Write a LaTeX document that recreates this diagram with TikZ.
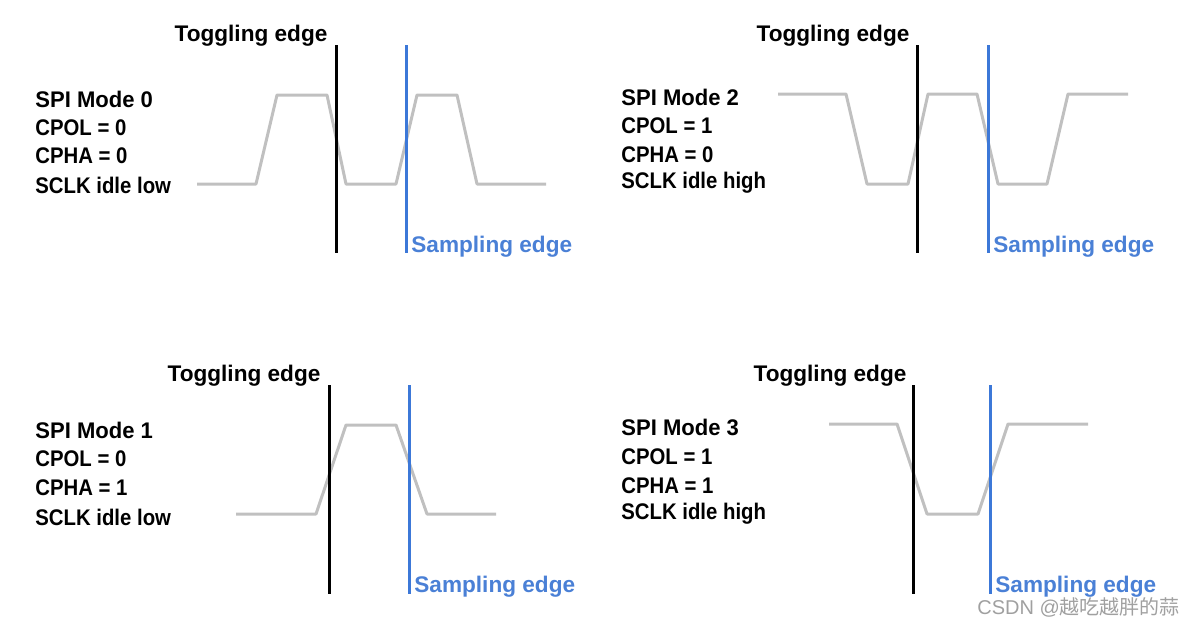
\documentclass[tikz,border=0pt]{standalone}
\usepackage{fontspec}
\setmainfont{Liberation Sans}
\newfontfamily\cjk{Noto Sans CJK SC}
\definecolor{wave}{RGB}{192,192,192}
\definecolor{samp}{RGB}{60,120,216}
\definecolor{stxt}{RGB}{74,128,214}
\definecolor{wm}{RGB}{160,160,160}
\newcommand{\nrw}[1]{\scalebox{0.9}[1]{#1}}
\newcommand{\nrwa}[1]{\scalebox{0.975}[1]{#1}}
\tikzset{
  lbl/.style={anchor=west,inner sep=0pt,font=\fontsize{11.3}{13}\selectfont\bfseries},
  toglbl/.style={lbl,anchor=center},
  samplbl/.style={lbl,text=stxt},
  wavepath/.style={draw=wave,line width=1.5pt,line join=round},
  togline/.style={draw=black,line width=1.5pt},
  sampline/.style={draw=samp,line width=1.5pt},
}
\begin{document}
\begin{tikzpicture}[x=0.5pt,y=-0.5pt]
\useasboundingbox (0,0) rectangle (1198,627);
% ---------- Mode 0 ----------
\node[lbl] (m0a) at (35,99) {\nrwa{SPI Mode 0}};
\node[lbl] (m0b) at (35,128) {\nrw{CPOL = 0}};
\node[lbl] (m0c) at (35,156) {\nrw{CPHA = 0}};
\node[lbl] (m0d) at (35,185) {\nrw{SCLK idle low}};
\draw[wavepath] (197,184) -- (256,184) -- (277,95) -- (327,95) -- (346,184) -- (396,184) -- (417,95) -- (457,95) -- (477,184) -- (546,184);
\coordinate (t0a) at (336,45); \coordinate (t0b) at (336,253);
\coordinate (s0a) at (406,45); \coordinate (s0b) at (406,253);
\draw[togline] (t0a) -- (t0b);
\draw[sampline] (s0a) -- (s0b);
\node[toglbl] (tg0) at (251,36) {Toggling edge};
\node[samplbl] (sp0) at (411,247) {Sampling edge};
% ---------- Mode 2 ----------
\node[lbl] (m2a) at (621,97) {\nrwa{SPI Mode 2}};
\node[lbl] (m2b) at (621,126) {\nrw{CPOL = 1}};
\node[lbl] (m2c) at (621,155) {\nrw{CPHA = 0}};
\node[lbl] (m2d) at (621,183) {\nrw{SCLK idle high}};
\draw[wavepath] (778,94) -- (846,94) -- (867,184) -- (908,184) -- (928,94) -- (977,94) -- (998,184) -- (1047,184) -- (1068,94) -- (1128,94);
\coordinate (t2a) at (917,45); \coordinate (t2b) at (917,253);
\coordinate (s2a) at (988,45); \coordinate (s2b) at (988,253);
\draw[togline] (t2a) -- (t2b);
\draw[sampline] (s2a) -- (s2b);
\node[toglbl] (tg2) at (833,36) {Toggling edge};
\node[samplbl] (sp2) at (993,247) {Sampling edge};
% ---------- Mode 1 ----------
\node[lbl] (m1a) at (35,430) {\nrwa{SPI Mode 1}};
\node[lbl] (m1b) at (35,459) {\nrw{CPOL = 0}};
\node[lbl] (m1c) at (35,488) {\nrw{CPHA = 1}};
\node[lbl] (m1d) at (35,517) {\nrw{SCLK idle low}};
\draw[wavepath] (236,514) -- (316,514) -- (346,425) -- (396,425) -- (427,514) -- (496,514);
\coordinate (t1a) at (329,385); \coordinate (t1b) at (329,594);
\coordinate (s1a) at (409,385); \coordinate (s1b) at (409,594);
\draw[togline] (t1a) -- (t1b);
\draw[sampline] (s1a) -- (s1b);
\node[toglbl] (tg1) at (244,376) {Toggling edge};
\node[samplbl] (sp1) at (414,587) {Sampling edge};
% ---------- Mode 3 ----------
\node[lbl] (m3a) at (621,427) {\nrwa{SPI Mode 3}};
\node[lbl] (m3b) at (621,457) {\nrw{CPOL = 1}};
\node[lbl] (m3c) at (621,486) {\nrw{CPHA = 1}};
\node[lbl] (m3d) at (621,514) {\nrw{SCLK idle high}};
\draw[wavepath] (829,424) -- (897,424) -- (927,514) -- (978,514) -- (1008,424) -- (1088,424);
\coordinate (t3a) at (913,385); \coordinate (t3b) at (913,594);
\coordinate (s3a) at (990,385); \coordinate (s3b) at (990,594);
\draw[togline] (t3a) -- (t3b);
\draw[sampline] (s3a) -- (s3b);
\node[toglbl] (tg3) at (830,376) {Toggling edge};
\node[samplbl] (sp3) at (995,587) {Sampling edge};
% ---------- watermark ----------
\node[anchor=west,inner sep=0pt,text=wm,font=\fontsize{10}{12}\selectfont] (wmk) at (977,607) {CSDN @{\cjk 越吃越胖的蒜}};
\end{tikzpicture}
\end{document}
